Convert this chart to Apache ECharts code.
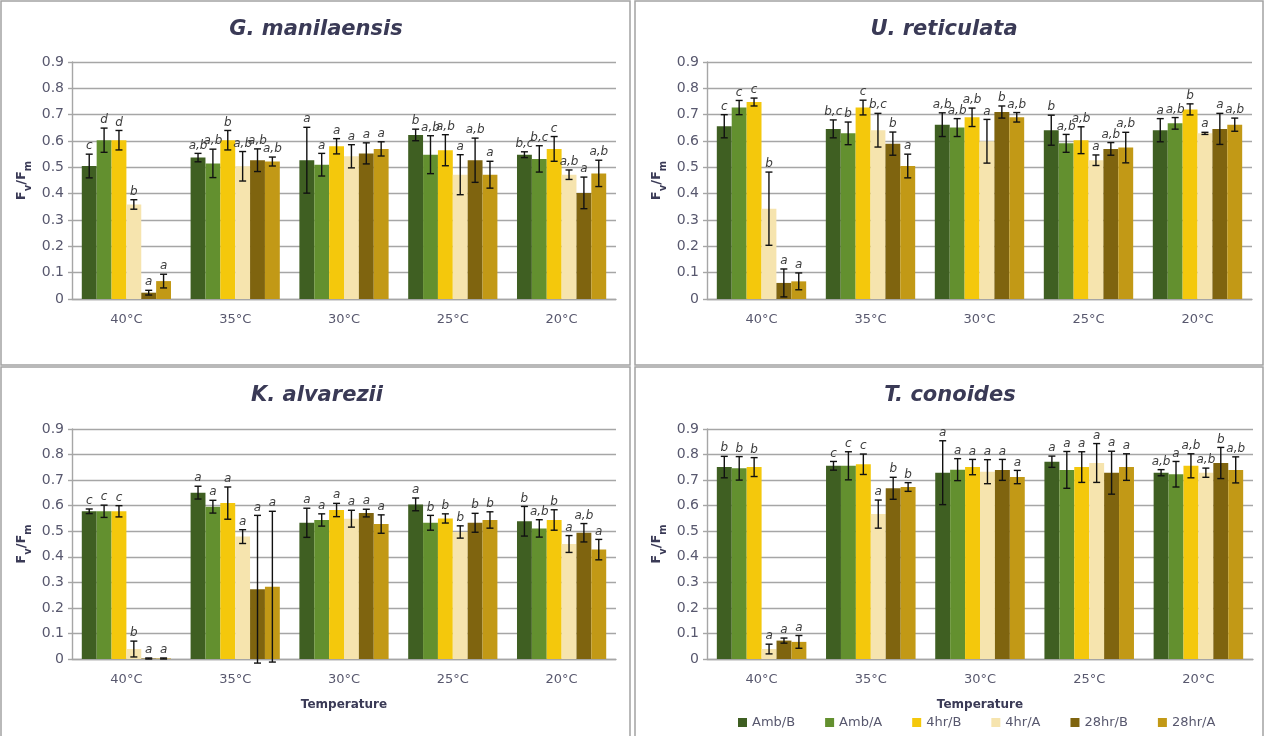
<!DOCTYPE html>
<html>
<head>
<meta charset="utf-8">
<script src="https://cdn.jsdelivr.net/npm/echarts@6/dist/echarts.min.js"></script>
<style>
  html, body { margin: 0; padding: 0; background: #fff; }
  #chart { width: 1265px; height: 736px; }
</style>
</head>
<body>
<div id="chart"></div>
<script>
// Temperature treatments (x categories) and recovery treatments (series)
const categories = ['40°C', '35°C', '30°C', '25°C', '20°C'];
const treatments = ['Amb/B', 'Amb/A', '4hr/B', '4hr/A', '28hr/B', '28hr/A'];
const yTicks = [0, 0.1, 0.2, 0.3, 0.4, 0.5, 0.6, 0.7, 0.8, 0.9];
const speciesNames = ['G. manilaensis', 'U. reticulata', 'K. alvarezii', 'T. conoides'];

// Mean Fv/Fm, one row per treatment, one column per temperature
const gManMean = [
  [0.505, 0.537, 0.527, 0.623, 0.548],
  [0.603, 0.515, 0.510, 0.548, 0.532],
  [0.603, 0.603, 0.580, 0.565, 0.570],
  [0.359, 0.504, 0.542, 0.472, 0.472],
  [0.024, 0.527, 0.553, 0.527, 0.403],
  [0.068, 0.522, 0.570, 0.472, 0.477]
];
const gManErr = [
  [0.045, 0.016, 0.125, 0.022, 0.011],
  [0.046, 0.054, 0.043, 0.072, 0.050],
  [0.037, 0.037, 0.029, 0.059, 0.047],
  [0.018, 0.056, 0.044, 0.076, 0.018],
  [0.009, 0.043, 0.040, 0.084, 0.060],
  [0.026, 0.017, 0.027, 0.051, 0.050]
];
const gManSig = [
  ['c', 'a,b', 'a', 'b', 'b,c'],
  ['d', 'a,b', 'a', 'a,b', 'b,c'],
  ['d', 'b', 'a', 'a,b', 'c'],
  ['b', 'a,b', 'a', 'a', 'a,b'],
  ['a', 'a,b', 'a', 'a,b', 'a'],
  ['a', 'a,b', 'a', 'a', 'a,b']
];

const uRetMean = [
  [0.656, 0.646, 0.662, 0.641, 0.641],
  [0.727, 0.629, 0.651, 0.591, 0.667],
  [0.748, 0.727, 0.690, 0.603, 0.720],
  [0.343, 0.641, 0.599, 0.527, 0.629],
  [0.061, 0.590, 0.710, 0.570, 0.646],
  [0.067, 0.505, 0.690, 0.575, 0.662]
];
const uRetErr = [
  [0.044, 0.034, 0.045, 0.057, 0.044],
  [0.027, 0.043, 0.034, 0.034, 0.022],
  [0.015, 0.028, 0.035, 0.051, 0.021],
  [0.139, 0.064, 0.083, 0.020, 0.004],
  [0.053, 0.044, 0.023, 0.024, 0.059],
  [0.032, 0.045, 0.018, 0.058, 0.025]
];
const uRetSig = [
  ['c', 'b,c', 'a,b', 'b', 'a'],
  ['c', 'b', 'a,b', 'a,b', 'a,b'],
  ['c', 'c', 'a,b', 'a,b', 'b'],
  ['b', 'b,c', 'a', 'a', 'a'],
  ['a', 'b', 'b', 'a,b', 'a'],
  ['a', 'a', 'a,b', 'a,b', 'a,b']
];

const kAlvMean = [
  [0.578, 0.651, 0.533, 0.605, 0.539],
  [0.578, 0.596, 0.544, 0.533, 0.511],
  [0.578, 0.610, 0.583, 0.550, 0.544],
  [0.039, 0.479, 0.549, 0.497, 0.450],
  [0.002, 0.273, 0.571, 0.533, 0.494],
  [0.002, 0.283, 0.528, 0.544, 0.428]
];
const kAlvErr = [
  [0.009, 0.025, 0.057, 0.025, 0.058],
  [0.024, 0.025, 0.024, 0.029, 0.034],
  [0.022, 0.063, 0.026, 0.018, 0.040],
  [0.031, 0.027, 0.033, 0.024, 0.033],
  [0.002, 0.289, 0.015, 0.037, 0.036],
  [0.002, 0.295, 0.036, 0.032, 0.040]
];
const kAlvSig = [
  ['c', 'a', 'a', 'a', 'b'],
  ['c', 'a', 'a', 'b', 'a,b'],
  ['c', 'a', 'a', 'b', 'b'],
  ['b', 'a', 'a', 'b', 'a'],
  ['a', 'a', 'a', 'b', 'a,b'],
  ['a', 'a', 'a', 'b', 'a']
];

const tConMean = [
  [0.751, 0.756, 0.729, 0.772, 0.729],
  [0.746, 0.756, 0.741, 0.740, 0.723],
  [0.751, 0.762, 0.751, 0.751, 0.756],
  [0.039, 0.567, 0.733, 0.767, 0.729],
  [0.072, 0.668, 0.740, 0.729, 0.767],
  [0.067, 0.673, 0.712, 0.751, 0.740]
];
const tConErr = [
  [0.042, 0.017, 0.125, 0.022, 0.012],
  [0.046, 0.055, 0.043, 0.072, 0.050],
  [0.037, 0.040, 0.030, 0.060, 0.047],
  [0.019, 0.055, 0.047, 0.076, 0.018],
  [0.010, 0.043, 0.041, 0.084, 0.061],
  [0.025, 0.017, 0.026, 0.052, 0.051]
];
const tConSig = [
  ['b', 'c', 'a', 'a', 'a,b'],
  ['b', 'c', 'a', 'a', 'a'],
  ['b', 'c', 'a', 'a', 'a,b'],
  ['a', 'a', 'a', 'a', 'a,b'],
  ['a', 'b', 'a', 'a', 'b'],
  ['a', 'b', 'a', 'a', 'a,b']
];

// ---- styling ----
const FONT = 'DejaVu Sans';
const barColors = ['#3f5f22', '#63902f', '#f4c80c', '#f6e4ae', '#7f640f', '#c29916'];
const gridColor = '#a6a6a6';
const labelColor = '#58586e';
const titleColor = '#3a3a56';
const CAT_GAP = 0.18;

const panels = [
  { mean: gManMean, err: gManErr, sig: gManSig, grid: { left: 72, top: 62, width: 544, height: 237 }, titleX: 316, titleY: 30, xName: false },
  { mean: uRetMean, err: uRetErr, sig: uRetSig, grid: { left: 707, top: 62, width: 545, height: 237 }, titleX: 944, titleY: 30, xName: false },
  { mean: kAlvMean, err: kAlvErr, sig: kAlvSig, grid: { left: 72, top: 429, width: 544, height: 230 }, titleX: 317, titleY: 396, xName: true },
  { mean: tConMean, err: tConErr, sig: tConSig, grid: { left: 707, top: 429, width: 546, height: 230 }, titleX: 950, titleY: 396, xName: true }
];

function errorBarRenderer(k, sigs) {
  const n = treatments.length;
  return function (params, api) {
    const cat = api.value(0), m = api.value(1), e = api.value(2);
    const band = api.size([1, 0])[0];
    const used = band * (1 - CAT_GAP);
    const bw = used / n;
    const x = api.coord([cat, 0])[0] - used / 2 + bw * (k + 0.5);
    const yt = api.coord([cat, m + e])[1];
    const yb = api.coord([cat, m - e])[1];
    const cap = 3.5;
    const st = { stroke: '#111', lineWidth: 1.4 };
    return {
      type: 'group',
      children: [
        { type: 'line', shape: { x1: x, y1: yt, x2: x, y2: yb }, style: st },
        { type: 'line', shape: { x1: x - cap, y1: yt, x2: x + cap, y2: yt }, style: st },
        { type: 'line', shape: { x1: x - cap, y1: yb, x2: x + cap, y2: yb }, style: st },
        {
          type: 'text', x: x, y: yt - 2,
          style: {
            text: sigs[params.dataIndex],
            textAlign: 'center', textVerticalAlign: 'bottom',
            align: 'center', verticalAlign: 'bottom',
            fontFamily: FONT, fontStyle: 'italic', fontSize: 12,
            fill: '#3c3c3c'
          }
        }
      ]
    };
  };
}

const grids = [], xAxes = [], yAxes = [], series = [], graphics = [];

panels.forEach(function (p, i) {
  grids.push(Object.assign({ containLabel: false }, p.grid));
  xAxes.push({
    type: 'category', gridIndex: i, data: categories,
    axisTick: { show: false },
    axisLine: { show: true, lineStyle: { color: gridColor, width: 1.4 } },
    axisLabel: { color: labelColor, fontFamily: FONT, fontSize: 13, margin: 14 },
    name: p.xName ? 'Temperature' : '',
    nameLocation: 'middle', nameGap: 40,
    nameTextStyle: { color: titleColor, fontFamily: FONT, fontSize: 12, fontWeight: 'bold' }
  });
  yAxes.push({
    type: 'value', gridIndex: i, min: 0, max: 0.9, interval: 0.1,
    axisLine: { show: true, lineStyle: { color: gridColor, width: 1.4 } },
    axisTick: { show: true, length: 4, lineStyle: { color: gridColor, width: 1.4 } },
    splitLine: { show: true, lineStyle: { color: gridColor, width: 1.4 } },
    axisLabel: {
      color: labelColor, fontFamily: FONT, fontSize: 14, margin: 8,
      formatter: function (v) {
        const t = yTicks.find(function (y) { return Math.abs(y - v) < 1e-6; });
        return t === 0 ? '0' : t.toFixed(1);
      }
    },
    name: '{m|F}{s|v}{m|/F}{s|m}',
    nameLocation: 'middle', nameGap: 42, nameRotate: 90,
    nameTextStyle: {
      rich: {
        m: { fontFamily: FONT, fontSize: 13, fontWeight: 'bold', color: titleColor, lineHeight: 15, verticalAlign: 'top' },
        s: { fontFamily: FONT, fontSize: 10, fontWeight: 'bold', color: titleColor, lineHeight: 10, padding: [8, 0, 0, 0], verticalAlign: 'top' }
      }
    }
  });

  treatments.forEach(function (name, k) {
    series.push({
      type: 'bar', name: name, xAxisIndex: i, yAxisIndex: i,
      data: p.mean[k],
      barGap: '0%', barCategoryGap: (CAT_GAP * 100) + '%',
      itemStyle: { color: barColors[k] },
      silent: true, z: 2
    });
  });
  treatments.forEach(function (name, k) {
    series.push({
      type: 'custom', xAxisIndex: i, yAxisIndex: i,
      renderItem: errorBarRenderer(k, p.sig[k]),
      data: p.mean[k].map(function (m, c) { return [c, m, p.err[k][c]]; }),
      encode: { x: 0, y: 1 },
      silent: true, z: 5, clip: false
    });
  });

  graphics.push({
    type: 'text', x: p.titleX, y: p.titleY,
    style: {
      text: speciesNames[i], textAlign: 'center', textVerticalAlign: 'middle',
      align: 'center', verticalAlign: 'middle',
      fontFamily: FONT, fontSize: 21, fontWeight: 'bold', fontStyle: 'italic', fill: titleColor
    }
  });
});

// Panel frames
[[1, 1, 629, 364], [635, 1, 628, 364], [1, 367, 629, 380], [635, 367, 628, 380]].forEach(function (r) {
  graphics.push({
    type: 'rect', shape: { x: r[0], y: r[1], width: r[2], height: r[3] },
    style: { fill: 'none', stroke: '#a3a3a3', lineWidth: 1.5 }, z: 0, silent: true
  });
});

const chart = echarts.init(document.getElementById('chart'), null, { renderer: 'canvas' });
chart.setOption({
  animation: false,
  backgroundColor: '#ffffff',
  grid: grids,
  xAxis: xAxes,
  yAxis: yAxes,
  series: series,
  graphic: graphics,
  legend: {
    data: treatments, left: 733, top: 711,
    itemWidth: 9, itemHeight: 9, itemGap: 30, icon: 'rect',
    textStyle: { color: labelColor, fontFamily: FONT, fontSize: 13 },
    selectedMode: false
  }
});
</script>
</body>
</html>
